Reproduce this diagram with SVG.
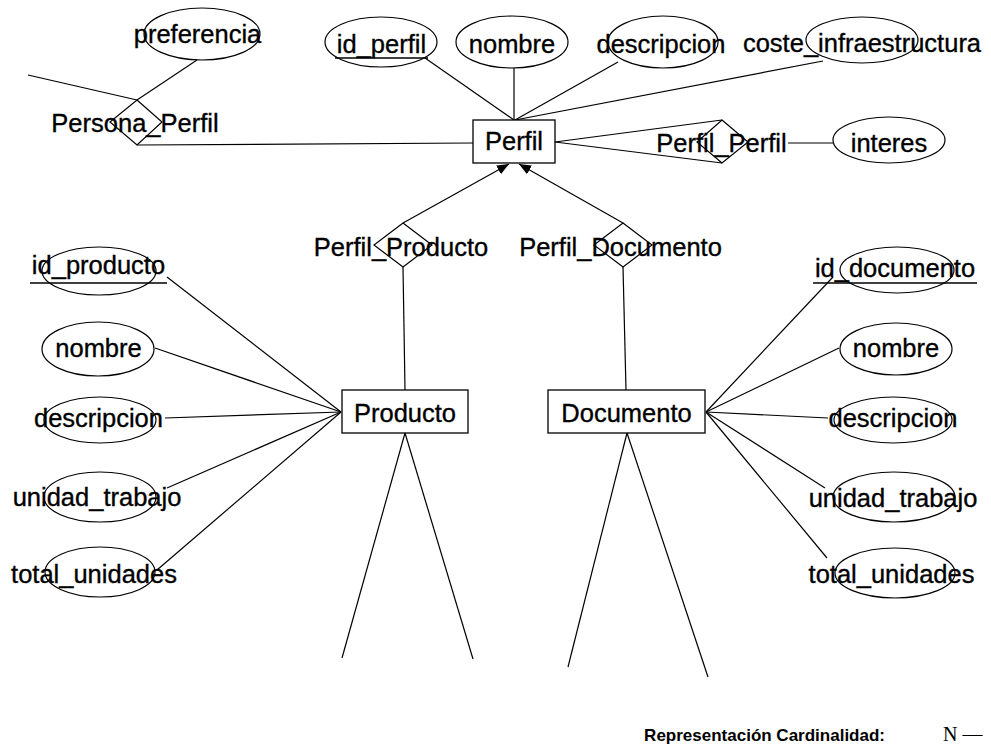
<svg xmlns="http://www.w3.org/2000/svg" width="991" height="751" viewBox="0 0 991 751">
  <style>
    .lbl { font-family: "Liberation Sans", Arial, sans-serif; font-size: 25.5px; fill: #000; stroke: #000; stroke-width: 0.35; text-anchor: middle; }
    .ent { fill: #fff; stroke: #000; stroke-width: 1.3; }
    .att { fill: none; stroke: #000; stroke-width: 1.2; }
    .rel { fill: none; stroke: #000; stroke-width: 1.2; }
    .key { stroke: #000; stroke-width: 1.6; }
    .conn line { stroke: #000; stroke-width: 1.2; }
    .legend { font-family: "Liberation Sans", Arial, sans-serif; font-size: 17px; font-weight: bold; fill: #000; text-anchor: end; }
    .card { font-family: "Liberation Serif", "Times New Roman", serif; font-size: 20px; fill: #000; }
  </style>
  <defs>
    <marker id="arrow" viewBox="0 0 12 10" refX="12" refY="5" markerWidth="12" markerHeight="10" markerUnits="userSpaceOnUse" orient="auto">
      <path d="M0,0 L12,5 L0,10 z" fill="#000"/>
    </marker>
  </defs>

  <rect width="991" height="751" fill="#fff"/>

  <!-- connectors -->
  <g id="connectors" class="conn">
    <!-- Persona_Perfil -->
    <line x1="28" y1="75" x2="137" y2="100"/>
    <line x1="197" y1="60" x2="137" y2="100"/>
    <line x1="137" y1="145" x2="473" y2="143"/>
    <!-- Perfil attributes -->
    <line x1="425" y1="58" x2="514" y2="120"/>
    <line x1="514" y1="68" x2="514" y2="120"/>
    <line x1="618" y1="62" x2="515" y2="120"/>
    <line x1="823" y1="61" x2="515" y2="120"/>
    <!-- Perfil_Perfil -->
    <line x1="555" y1="142" x2="722" y2="120"/>
    <line x1="555" y1="142" x2="722" y2="163"/>
    <line x1="788" y1="143" x2="833" y2="143"/>
    <!-- Perfil_Producto / Perfil_Documento -->
    <line x1="403" y1="223" x2="509" y2="164" marker-end="url(#arrow)"/>
    <line x1="623" y1="223" x2="519" y2="164" marker-end="url(#arrow)"/>
    <line x1="403" y1="267" x2="405" y2="390"/>
    <line x1="623" y1="267" x2="626" y2="390"/>
    <!-- Producto attributes -->
    <line x1="167" y1="277" x2="341" y2="412"/>
    <line x1="155" y1="348" x2="341" y2="412"/>
    <line x1="165" y1="418" x2="341" y2="412"/>
    <line x1="167" y1="488" x2="341" y2="412"/>
    <line x1="157" y1="570" x2="341" y2="412"/>
    <!-- Documento attributes -->
    <line x1="833" y1="277" x2="706" y2="412"/>
    <line x1="839" y1="348" x2="706" y2="412"/>
    <line x1="828" y1="418" x2="706" y2="412"/>
    <line x1="825" y1="488" x2="706" y2="412"/>
    <line x1="827" y1="558" x2="706" y2="412"/>
    <!-- open links below Producto and Documento -->
    <line x1="405" y1="433" x2="342" y2="658"/>
    <line x1="405" y1="433" x2="473" y2="659"/>
    <line x1="627" y1="433" x2="568" y2="667"/>
    <line x1="627" y1="433" x2="708" y2="677"/>
  </g>

  <!-- Perfil entity and its attributes -->
  <g id="perfil">
    <rect class="ent" x="473" y="120" width="82" height="43"/>
    <text class="lbl" x="514" y="150">Perfil</text>
  </g>
  <g id="perfil-id">
    <ellipse class="att" cx="381" cy="42" rx="56" ry="25"/>
    <text class="lbl" x="381.5" y="53">id_perfil</text>
    <line class="key" x1="335" y1="58" x2="428" y2="58"/>
  </g>
  <g id="perfil-nombre">
    <ellipse class="att" cx="512" cy="42" rx="56" ry="26"/>
    <text class="lbl" x="512" y="53">nombre</text>
  </g>
  <g id="perfil-descripcion">
    <ellipse class="att" cx="663" cy="42" rx="55" ry="26"/>
    <text class="lbl" x="661" y="53">descripcion</text>
  </g>
  <g id="perfil-coste">
    <ellipse class="att" cx="862" cy="40" rx="56" ry="23"/>
    <text class="lbl" x="862" y="52">coste_infraestructura</text>
  </g>

  <!-- Persona_Perfil relationship -->
  <g id="persona-perfil">
    <polygon class="rel" points="137,100 162,122 137,145 110,122"/>
    <text class="lbl" x="135" y="132">Persona_Perfil</text>
  </g>
  <g id="persona-perfil-preferencia">
    <ellipse class="att" cx="202" cy="34" rx="58" ry="26"/>
    <text class="lbl" x="197.5" y="43">preferencia</text>
  </g>

  <!-- Perfil_Perfil relationship -->
  <g id="perfil-perfil">
    <polygon class="rel" points="722,120 748,142 722,163 697,142"/>
    <text class="lbl" x="721.5" y="152">Perfil_Perfil</text>
  </g>
  <g id="perfil-perfil-interes">
    <ellipse class="att" cx="889" cy="140" rx="56" ry="23"/>
    <text class="lbl" x="889" y="152">interes</text>
  </g>

  <!-- Perfil_Producto relationship -->
  <g id="perfil-producto">
    <polygon class="rel" points="403,223 432,245 403,267 374,245"/>
    <text class="lbl" x="401" y="256">Perfil_Producto</text>
  </g>

  <!-- Perfil_Documento relationship -->
  <g id="perfil-documento">
    <polygon class="rel" points="623,223 652,245 623,267 594,245"/>
    <text class="lbl" x="620.5" y="256">Perfil_Documento</text>
  </g>

  <!-- Producto entity and its attributes -->
  <g id="producto">
    <rect class="ent" x="342" y="390" width="126" height="43"/>
    <text class="lbl" x="405" y="422">Producto</text>
  </g>
  <g id="producto-id">
    <ellipse class="att" cx="99" cy="271" rx="57" ry="24"/>
    <text class="lbl" x="98.5" y="274">id_producto</text>
    <line class="key" x1="30" y1="283" x2="167" y2="283"/>
  </g>
  <g id="producto-nombre">
    <ellipse class="att" cx="98" cy="349" rx="56" ry="27"/>
    <text class="lbl" x="98.5" y="357">nombre</text>
  </g>
  <g id="producto-descripcion">
    <ellipse class="att" cx="100" cy="420" rx="56" ry="23"/>
    <text class="lbl" x="98.5" y="427">descripcion</text>
  </g>
  <g id="producto-unidad">
    <ellipse class="att" cx="100" cy="497" rx="56" ry="25"/>
    <text class="lbl" x="97" y="506">unidad_trabajo</text>
  </g>
  <g id="producto-total">
    <ellipse class="att" cx="100" cy="572" rx="55" ry="25"/>
    <text class="lbl" x="94" y="583">total_unidades</text>
  </g>

  <!-- Documento entity and its attributes -->
  <g id="documento">
    <rect class="ent" x="548" y="390" width="157" height="43"/>
    <text class="lbl" x="626.5" y="422">Documento</text>
  </g>
  <g id="documento-id">
    <ellipse class="att" cx="897" cy="270" rx="57" ry="23"/>
    <text class="lbl" x="895" y="277">id_documento</text>
    <line class="key" x1="813" y1="283" x2="977" y2="283"/>
  </g>
  <g id="documento-nombre">
    <ellipse class="att" cx="896" cy="349" rx="56" ry="26"/>
    <text class="lbl" x="896" y="357">nombre</text>
  </g>
  <g id="documento-descripcion">
    <ellipse class="att" cx="893" cy="420" rx="59" ry="23"/>
    <text class="lbl" x="893" y="427">descripcion</text>
  </g>
  <g id="documento-unidad">
    <ellipse class="att" cx="894" cy="497" rx="61" ry="25"/>
    <text class="lbl" x="893" y="507">unidad_trabajo</text>
  </g>
  <g id="documento-total">
    <ellipse class="att" cx="895" cy="573" rx="60" ry="25"/>
    <text class="lbl" x="891.5" y="583">total_unidades</text>
  </g>

  <!-- cardinality legend -->
  <g id="legend">
    <text class="legend" x="885" y="741">Representación Cardinalidad:</text>
    <text class="card" x="943" y="741">N —</text>
  </g>
</svg>
